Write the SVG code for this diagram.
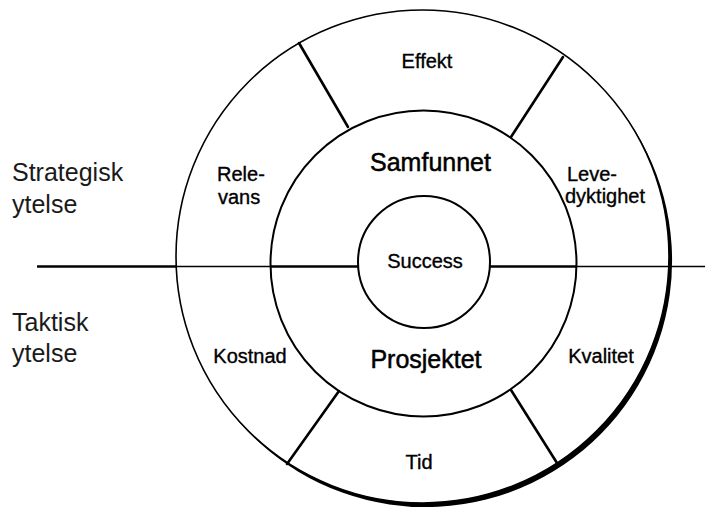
<svg xmlns="http://www.w3.org/2000/svg" width="705" height="508" viewBox="0 0 705 508">
  <style>
    .ring { fill: none; stroke: #000; }
    .lbl { font-family: "Liberation Sans", Arial, sans-serif; font-size: 20px; fill: #000; stroke: #000; stroke-width: 0.35; }
    .big { font-size: 25px; stroke-width: 0.5; }
    .side { font-family: "Liberation Sans", Arial, sans-serif; font-size: 25px; fill: #1a1a1a; }
    .div { stroke: #000; stroke-width: 2.6; stroke-linecap: round; }
    .hthick { stroke: #000; stroke-width: 2.6; }
    .hthin { stroke: #000; stroke-width: 1.6; }
  </style>
  <rect width="705" height="508" fill="#fff"/>

  <g id="rings">
    <circle class="ring" cx="422.5" cy="256.5" r="246.5" stroke-width="1.6"/>
    <path d="M621.19,110.61 A246.5,246.5 0 1 1 226.81,406.39 A246.5,246.5 0 0 0 621.19,110.61 Z" fill="#000"/>
    <circle class="ring" cx="423.5" cy="263.5" r="153" stroke-width="2"/>
    <circle class="ring" cx="424" cy="262" r="66" stroke-width="2"/>
  </g>

  <g id="connectors">
    <line class="hthick" x1="37" y1="266.5" x2="176" y2="266.5"/>
    <line class="hthin" x1="176" y1="266.5" x2="270.5" y2="266.5"/>
    <line class="hthick" x1="270.5" y1="266.5" x2="358" y2="266.5"/>
    <line class="hthick" x1="490" y1="266.5" x2="576.5" y2="266.5"/>
    <line class="hthin" x1="576.5" y1="266.5" x2="705" y2="266.5"/>
    <line class="div" x1="299" y1="43" x2="348" y2="127"/>
    <line class="div" x1="563" y1="57" x2="511" y2="137"/>
    <line class="div" x1="339" y1="391" x2="287" y2="464"/>
    <line class="div" x1="511" y1="390" x2="557" y2="463"/>
  </g>

  <g id="strategisk">
    <text class="side" x="12" y="181">Strategisk</text>
    <text class="side" x="12" y="213">ytelse</text>
  </g>
  <g id="taktisk">
    <text class="side" x="12" y="331">Taktisk</text>
    <text class="side" x="12" y="362">ytelse</text>
  </g>

  <g id="effekt"><text class="lbl" x="427" y="68" text-anchor="middle">Effekt</text></g>
  <g id="relevans">
    <text class="lbl" x="217" y="181">Rele-</text>
    <text class="lbl" x="218" y="204">vans</text>
  </g>
  <g id="levedyktighet">
    <text class="lbl" x="567" y="181">Leve-</text>
    <text class="lbl" x="565" y="203">dyktighet</text>
  </g>
  <g id="samfunnet"><text class="lbl big" x="430.5" y="171" text-anchor="middle">Samfunnet</text></g>
  <g id="success"><text class="lbl" x="425" y="268" text-anchor="middle">Success</text></g>
  <g id="prosjektet"><text class="lbl big" x="426" y="368" text-anchor="middle">Prosjektet</text></g>
  <g id="kostnad"><text class="lbl" x="250" y="362.5" text-anchor="middle">Kostnad</text></g>
  <g id="kvalitet"><text class="lbl" x="601" y="362.5" text-anchor="middle">Kvalitet</text></g>
  <g id="tid"><text class="lbl" x="419" y="469" text-anchor="middle">Tid</text></g>
</svg>
